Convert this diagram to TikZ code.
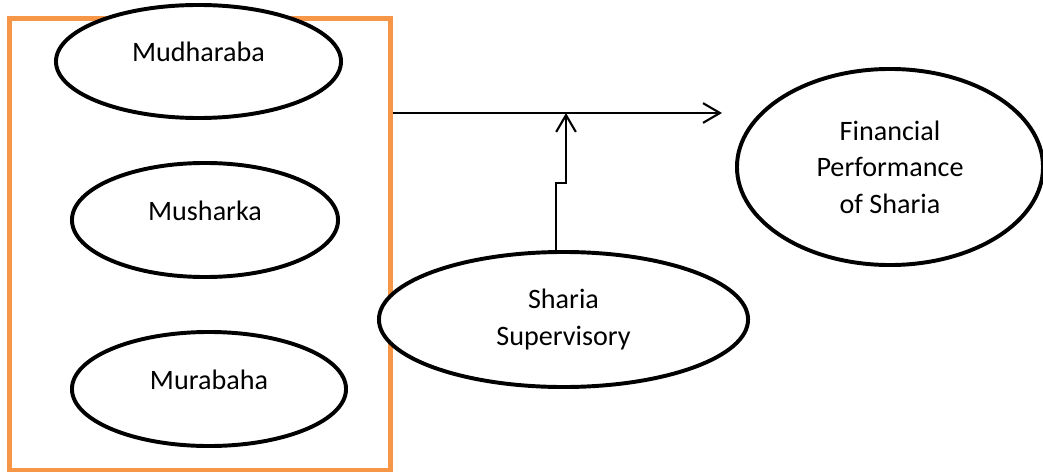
\documentclass[tikz,border=0pt]{standalone}
\usepackage{fontspec}
\setmainfont{Carlito}
\usepackage{tikz}
\usetikzlibrary{arrows.meta, shapes.geometric}
\definecolor{boxorange}{HTML}{F79646}
\tikzset{
>={Straight Barb[length=12pt,width=14pt]},
oval/.style={%
    ellipse,
    draw=black,
    fill=white,
    line width=2.8pt,
    inner sep=0pt,
    align=center,
    % Font
    font=\fontsize{20}{26}\selectfont
},
oneline/.style={text height=14pt, text depth=14pt},
frame/.style={%
    rectangle,
    draw=boxorange,
    line width=3.5pt,
    minimum width=9.5cm,
    minimum height=11.29cm
},
link/.style={line width=1.5pt},
}

\begin{document}
\begin{tikzpicture}[x=0.025cm, y=-0.025cm]
	\useasboundingbox (0,0) rectangle (1043,472);
	\node[frame] at (200,244.25) (grp) {};

	\node[oval, oneline, minimum width=7.125cm, minimum height=2.825cm] at (198.5,61.5) (mudh) {Mudharaba};
	\node[oval, oneline, minimum width=6.65cm, minimum height=2.85cm] at (205,220) (mush) {Musharka};
	\node[oval, oneline, minimum width=6.85cm, minimum height=2.85cm] at (209,389) (mura) {Murabaha};

	\node[oval, minimum width=9.225cm, minimum height=3.375cm] at (563.5,319.5) (sup) {Sharia\\Supervisory};
	\node[oval, minimum width=7.65cm, minimum height=4.9cm] at (890,167) (perf) {Financial\\Performance\\of Sharia};

	\coordinate (tip) at (722,113);
	\coordinate (jog) at (556,183);
	\coordinate (meet) at (566,113);

	\draw[link, ->] (grp.east |- tip) -- (tip);
	\draw[link, ->] (sup.north -| jog) -- (jog) -| (meet);
\end{tikzpicture}
\end{document}
